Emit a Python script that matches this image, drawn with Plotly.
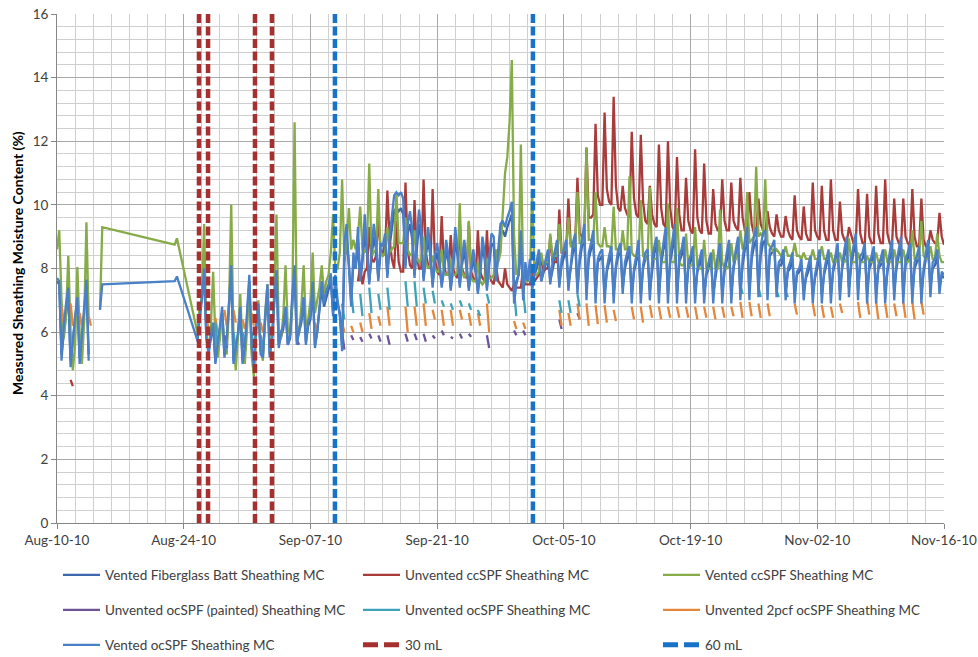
import datetime as dt
import plotly.graph_objects as go

# ---------------- time base: logger rows, 6-hour steps from Aug-10-10 00:00 ----------------
START = dt.datetime(2010, 8, 10)
slots = list(range(0, 21)) + [52, 53] + list(range(62, 393))
times = [START + dt.timedelta(hours=6 * s) for s in slots]

x_ticks = ["2010-08-10", "2010-08-24", "2010-09-07", "2010-09-21",
           "2010-10-05", "2010-10-19", "2010-11-02", "2010-11-16"]
y_ticks = [0, 2, 4, 6, 8, 10, 12, 14, 16]

# ---------------- Vented ocSPF Sheathing MC ----------------
vented_ocspf = [
    7.7, 7.6, 5.1, 6.2, 6.9, 7.4, 4.9, 5.8, 6.5, 7.1, 5.0, 5.9, 6.8, 7.65, 5.1,
    None, None, None, None, 6.7, 7.5,
    7.6, 7.75,
    5.75, 6.5,
    7.0, 8.0, 5.8, 5.3,  5.9, 6.3, 5.0, 5.6,  6.2, 6.8, 5.2, 5.8,  6.9, 8.1, 5.0, 5.6,
    6.0, 6.8, 5.0, 5.5,  6.5, 7.8, 5.6, 4.9,  6.2, 6.9, 5.3, 5.2,  6.5, 7.5, 5.2, 5.8,
    7.0, 7.95, 5.5, 6.0, 6.2, 6.8, 5.6, 5.9,  7.2, 8.1, 5.6, 6.1,  6.4, 7.1, 5.6, 6.3,
    6.5, 7.6, 5.5, 6.0,  6.8, 7.6, 6.9, 7.3,  7.5, 7.85, 6.5, 7.8, 7.0, 6.5, 5.4, 8.8,
    9.4, 8.0, 6.8, 8.5,  8.0, 9.3, 7.6, 8.4,  9.7, 8.6, 7.5, 8.6,  9.4, 8.8, 7.6, 8.8,
    8.7, 9.1, 7.7, 9.0,  9.6, 10.3, 10.4, 10.3, 10.4, 10.2, 8.0, 9.4, 9.8, 9.2, 7.7, 9.0,
    9.85, 9.2, 7.6, 8.6, 9.3, 8.6, 7.4, 8.4,  8.8, 8.3, 7.4, 8.0,  8.9, 8.4, 7.3, 8.1,
    9.3, 8.6, 7.4, 8.3,  8.9, 8.2, 7.3, 8.0,  8.6, 8.0, 7.2, 7.9,  9.0, 8.5, 7.3, 8.3,
    9.1, 9.0, 7.6, 8.6,  9.4, 9.5, 9.3, 9.6,  9.8, 10.1, 6.9, 7.5, 7.8, 9.2, 7.0, 8.2,
    7.6, 8.3, 7.3, 7.9,  8.2, 8.6, 7.6, 8.0,  8.3, 8.6, 7.5, 8.2,  8.5, 8.9, 7.4, 8.3,
    8.6, 8.9, 7.3, 8.2,  8.8, 9.1, 7.2, 8.4,  9.0, 9.4, 7.0, 8.5,  8.8, 9.2, 6.9, 8.3,
    8.5, 8.6, 6.9, 8.0,  8.4, 8.7, 6.9, 8.1,  8.6, 8.8, 7.2, 8.2,  8.5, 8.7, 6.9, 8.0,
    8.4, 8.9, 6.9, 8.1,  8.5, 8.6, 7.0, 8.2,  8.7, 9.0, 6.9, 8.3,  8.8, 9.3, 6.9, 8.4,
    8.9, 9.4, 6.9, 8.4,  8.6, 9.0, 6.9, 8.2,  8.4, 8.7, 6.9, 8.0,  8.3, 8.6, 6.9, 7.9,
    8.2, 8.5, 6.9, 7.9,  8.4, 8.8, 6.9, 8.0,  8.5, 8.9, 6.9, 8.1,  8.6, 9.0, 7.0, 8.3,
    8.9, 9.3, 7.0, 8.5,  9.0, 9.3, 7.1, 8.7,  9.1, 9.2, 7.0, 8.6,  8.7, 8.9, 7.1, 8.2,
    8.3, 8.6, 7.0, 8.0,  8.2, 8.5, 6.9, 7.9,  8.0, 8.3, 7.0, 7.8,  8.1, 8.4, 6.9, 7.8,
    8.2, 8.6, 6.9, 7.9,  8.3, 8.6, 6.9, 8.0,  8.4, 8.8, 7.0, 8.1,  8.6, 9.0, 7.1, 8.3,
    8.7, 9.1, 7.0, 8.4,  8.5, 8.8, 6.9, 8.2,  8.4, 8.7, 6.9, 8.1,  8.3, 8.6, 6.9, 8.0,
    8.5, 8.9, 7.0, 8.2,  8.6, 9.0, 6.9, 8.3,  8.5, 8.8, 6.9, 8.2,  8.4, 8.7, 6.9, 8.0,
    8.5, 8.9, 7.1, 8.2,  8.3, 8.6, 7.2, 7.9,
    7.8,
]

# ---------------- Vented Fiberglass Batt Sheathing MC ----------------
vented_fiberglass = [
    7.6, 7.5, 5.3, 6.0, 6.7, 7.2, 5.1, 5.7, 6.4, 7.0, 5.2, 5.8, 6.6, 7.5, 5.3,
    None, None, None, None, None, None,
    None, None,
    5.7, 6.4,
    6.9, 7.8, 5.9, 5.4,  5.8, 6.2, 5.1, 5.5,  6.1, 6.6, 5.3, 5.7,  6.8, 7.9, 5.1, 5.5,
    5.9, 6.6, 5.1, 5.4,  6.4, 7.6, 5.5, 5.0,  6.1, 6.8, 5.4, 5.3,  6.4, 7.3, 5.3, 5.7,
    6.9, 7.8, 5.6, 5.9,  6.1, 6.7, 5.6, 5.8,  7.0, 7.9, 5.7, 6.0,  6.3, 7.0, 5.7, 6.2,
    6.4, 7.4, 5.6, 6.0,  6.7, 7.4, 6.8, 7.1,  7.3, 7.6, 6.6, 7.5,  6.9, 6.6, 5.6, 8.2,
    8.9, 8.1, 7.0, 8.2,  8.0, 8.8, 7.6, 8.2,  9.1, 8.5, 7.6, 8.4,  9.0, 8.6, 7.7, 8.5,
    8.5, 8.8, 7.8, 8.7,  9.2, 9.8, 9.9, 9.8,  9.9, 9.7, 8.1, 9.1,  9.4, 8.9, 7.8, 8.7,
    9.4, 8.9, 7.7, 8.4,  8.9, 8.4, 7.5, 8.2,  8.5, 8.1, 7.5, 7.9,  8.6, 8.2, 7.4, 7.9,
    8.9, 8.4, 7.5, 8.1,  8.6, 8.0, 7.4, 7.9,  8.3, 7.9, 7.3, 7.8,  8.7, 8.3, 7.4, 8.1,
    8.8, 8.7, 7.7, 8.4,  9.1, 9.2, 9.0, 9.3,  9.5, 9.7, 7.1, 7.6,  7.8, 8.8, 7.2, 8.0,
    7.6, 8.1, 7.4, 7.8,  8.0, 8.4, 7.6, 7.9,  8.1, 8.4, 7.6, 8.0,  8.3, 8.6, 7.5, 8.1,
    8.4, 8.6, 7.5, 8.1,  8.5, 8.8, 7.4, 8.2,  8.7, 9.0, 7.3, 8.3,  8.6, 8.9, 7.2, 8.2,
    8.3, 8.4, 7.2, 7.9,  8.2, 8.5, 7.2, 8.0,  8.4, 8.6, 7.4, 8.0,  8.3, 8.5, 7.2, 7.9,
    8.2, 8.6, 7.2, 8.0,  8.3, 8.4, 7.3, 8.0,  8.5, 8.7, 7.2, 8.1,  8.6, 8.9, 7.2, 8.2,
    8.6, 9.0, 7.2, 8.2,  8.4, 8.7, 7.2, 8.0,  8.2, 8.5, 7.2, 7.9,  8.1, 8.4, 7.2, 7.8,
    8.0, 8.3, 7.2, 7.8,  8.2, 8.5, 7.2, 7.9,  8.3, 8.6, 7.2, 8.0,  8.4, 8.7, 7.3, 8.1,
    8.6, 8.9, 7.3, 8.3,  8.7, 8.9, 7.4, 8.4,  8.8, 8.9, 7.3, 8.4,  8.5, 8.6, 7.4, 8.1,
    8.1, 8.4, 7.3, 7.9,  8.0, 8.3, 7.2, 7.8,  7.9, 8.1, 7.3, 7.7,  7.9, 8.2, 7.2, 7.7,
    8.0, 8.4, 7.2, 7.8,  8.1, 8.4, 7.2, 7.9,  8.2, 8.6, 7.3, 8.0,  8.4, 8.7, 7.4, 8.1,
    8.5, 8.8, 7.3, 8.2,  8.3, 8.6, 7.2, 8.0,  8.2, 8.5, 7.2, 8.0,  8.1, 8.4, 7.2, 7.9,
    8.3, 8.6, 7.3, 8.0,  8.4, 8.7, 7.2, 8.1,  8.3, 8.6, 7.2, 8.0,  8.2, 8.5, 7.2, 7.9,
    8.3, 8.6, 7.4, 8.0,  8.1, 8.4, 7.4, 7.8,
    7.7,
]

# ---------------- Unvented ccSPF Sheathing MC ----------------
unvented_ccspf = [
    None, None, None, None, None, None, 4.5, 4.3, None, None, None, None, None, None, None,
    None, None, None, None, None, None,
    None, None,
    None, None,
] + [None] * 68 + [
    None, 7.6, 8.05, 7.5,  7.9, 8.0, 9.3, 8.3,  8.2, 8.4, 9.6, 8.6,  8.4, 8.5, 10.45, 8.9,
    8.3, 8.0, 9.5, 8.2,  7.9, 7.9, 10.7, 8.6,  8.1, 8.0, 10.15, 8.4,  8.0, 8.0, 10.8, 8.5,
    8.1, 8.0, 10.5, 8.3,  7.9, 7.8, 9.65, 8.1,  7.8, 7.8, 9.05, 8.0,  7.8, 7.7, 9.45, 8.0,
    7.8, 7.7, 9.45, 7.9,  7.7, 7.6, 9.2, 7.9,  7.7, 7.6, 9.2, 7.8,  7.6, 7.5, 8.1, 7.6,
    7.5, 7.4, 8.0, 7.5,  7.4, 7.3, 7.5, 7.4,  7.4, 7.4, 8.0, 7.5,  7.5, 7.5, 7.9, 7.6,
    7.7, 7.8, 8.4, 7.9,  8.0, 8.0, 9.0, 8.2,  8.2, 8.2, 9.85, 8.5,  8.5, 8.5, 10.2, 8.8,
    8.8, 8.8, 10.85, 9.1, 9.0, 9.0, 11.8, 9.6, 9.6, 9.7, 12.55, 10.3, 10.0, 10.0, 12.9, 10.5,
    10.1, 10.0, 13.4, 10.6, 9.9, 9.8, 10.6, 9.9, 9.7, 9.6, 12.3, 10.2, 9.7, 9.6, 12.2, 10.1,
    9.5, 9.4, 10.6, 9.7,  9.4, 9.3, 11.9, 9.9,  9.4, 9.3, 12.0, 9.9,  9.3, 9.2, 11.5, 9.7,
    9.2, 9.2, 10.85, 9.5, 9.2, 9.1, 11.75, 9.6, 9.2, 9.1, 11.3, 9.5,  9.1, 9.1, 10.5, 9.4,
    9.2, 9.2, 10.8, 9.5,  9.2, 9.2, 10.7, 9.5,  9.3, 9.2, 10.85, 9.6, 9.2, 9.1, 10.4, 9.4,
    9.1, 9.1, 10.2, 9.4,  9.2, 9.1, 9.8, 9.3,   9.1, 9.0, 9.7, 9.2,   9.0, 9.0, 9.65, 9.2,
    9.0, 8.9, 10.3, 9.2,  9.0, 8.9, 9.95, 9.1,  8.9, 8.9, 10.7, 9.2,  9.0, 8.9, 10.6, 9.2,
    8.9, 8.9, 10.8, 9.2,  8.9, 8.9, 10.1, 9.1,  8.9, 8.8, 9.3, 9.0,   8.8, 8.8, 10.5, 9.1,
    8.8, 8.8, 10.35, 9.0, 8.8, 8.8, 10.6, 9.1,  8.8, 8.8, 10.8, 9.1,  8.8, 8.7, 10.2, 9.0,
    8.8, 8.7, 10.2, 9.0,  8.8, 8.7, 10.5, 9.0,  8.7, 8.7, 10.2, 8.9,  8.7, 8.7, 9.2, 8.9,
    8.8, 8.8, 9.75, 9.0,
    8.75,
]

# ---------------- Vented ccSPF Sheathing MC ----------------
vented_ccspf = [
    8.6, 9.2, 7.0, 5.8, 6.5, 8.4, 6.0, 4.8, 5.6, 8.05, 6.0, 5.0, 6.3, 9.45, 6.4,
    None, None, None, None, 6.7, 9.3,
    8.75, 8.95,
    6.0, 6.8,
    7.0, 9.4, 6.0, 5.4,  6.2, 7.9, 5.8, 5.2,  5.8, 6.6, 5.6, 5.3,  6.8, 10.0, 5.8, 4.8,
    5.9, 7.2, 5.5, 5.0,  6.1, 7.4, 5.3, 4.6,  6.0, 7.0, 5.5, 5.1,  6.6, 7.5, 5.8, 5.6,
    7.3, 9.7, 6.0, 5.8,  6.5, 8.1, 6.1, 5.9,  7.0, 12.6, 6.2, 6.0, 6.8, 8.1, 6.2, 6.4,
    7.0, 8.5, 6.6, 7.0,  7.4, 8.1, 7.2, 7.6,  7.8, 8.5, 9.7, 8.0,  8.0, 8.5, 10.8, 8.3,
    8.8, 9.9, 8.6, 8.9,  8.6, 9.0, 9.95, 8.6, 8.5, 8.7, 11.3, 8.4,  8.5, 8.6, 10.5, 8.5,
    8.4, 8.5, 9.3, 8.5,  8.6, 8.7, 10.4, 8.8,  8.8, 8.8, 9.6, 8.6,  8.4, 8.5, 9.2, 8.3,
    8.2, 8.3, 9.0, 8.2,  8.0, 8.1, 8.4, 8.0,  7.9, 7.9, 8.6, 7.9,  7.8, 7.8, 8.3, 7.8,
    7.8, 7.9, 10.05, 7.9, 7.7, 7.9, 9.5, 7.7, 7.6, 7.6, 8.2, 7.6,  7.5, 7.6, 8.3, 7.7,
    7.7, 7.8, 8.6, 8.2,  8.5, 9.6, 11.0, 11.5, 12.6, 14.55, 9.0, 7.8, 8.0, 11.9, 7.8, 7.6,
    7.6, 7.7, 10.5, 7.8, 7.8, 7.9, 8.5, 8.1,  8.2, 8.2, 9.1, 8.3,  8.4, 8.4, 9.4, 8.5,
    8.6, 8.6, 9.6, 8.7,  8.7, 8.7, 10.4, 8.8,  8.8, 8.9, 11.8, 8.9,  8.9, 8.8, 10.4, 8.8,
    8.7, 8.7, 9.3, 8.7,  8.7, 8.6, 9.95, 8.6,  8.6, 8.5, 9.2, 8.6,  8.6, 10.9, 8.5, 8.4,
    8.4, 8.4, 10.15, 8.4, 8.3, 8.3, 10.55, 8.3, 8.3, 8.3, 8.9, 8.2,  8.2, 8.2, 10.05, 8.2,
    8.2, 8.2, 9.9, 8.2,  8.1, 8.1, 9.1, 8.1,  8.1, 8.1, 9.3, 8.1,  8.0, 8.0, 8.9, 8.0,
    8.0, 8.0, 8.6, 8.0,  8.0, 9.85, 8.2, 8.0,  8.0, 8.1, 8.8, 8.2,  8.3, 8.5, 9.2, 8.6,
    8.7, 10.4, 8.8, 8.9,  9.0, 11.2, 9.0, 9.1, 9.0, 10.8, 8.8, 8.7,  8.6, 8.5, 8.6, 8.5,
    8.4, 8.4, 8.7, 8.4,  8.4, 8.4, 8.8, 8.4,  8.4, 8.3, 8.5, 8.3,  8.3, 8.3, 8.6, 8.3,
    8.3, 8.3, 8.7, 8.3,  8.3, 8.3, 8.5, 8.2,  8.2, 8.3, 8.5, 8.2,  8.2, 8.3, 8.95, 8.2,
    8.2, 8.2, 8.5, 8.2,  8.2, 8.2, 8.4, 8.2,  8.2, 8.2, 8.5, 8.2,  8.2, 8.2, 8.6, 8.2,
    8.2, 8.2, 8.6, 8.2,  8.2, 8.2, 8.6, 8.2,  8.2, 8.3, 9.2, 8.3,  8.3, 8.4, 9.5, 8.4,
    8.3, 8.3, 8.7, 8.3,  8.3, 9.1, 8.4, 8.2,
    8.2,
]

# ---------------- lower sensors: daily dip (top -> bottom) read per day ----------------
painted_days = [18, 20, 26, 31, 32, 33, 34, 35, 36, 38, 39, 40, 41, 42, 43, 44, 45, 47, 50, 51, 55, 57]
painted_top = [5.9, 5.8, 5.75, 6.0, 5.9, 5.85, 5.95, 5.9, 5.9, 5.95, 5.95, 5.95, 5.9, 6.05, 5.85,
               5.95, 5.95, 5.9, 6.05, 6.05, 6.4, 6.6]
painted_bot = [5.5, 5.5, 5.6, 5.45, 5.75, 5.7, 5.8, 5.7, 5.6, 5.7, 5.75, 5.7, 5.8, 5.9, 5.8,
               5.8, 5.85, 5.5, 5.9, 5.9, 6.1, 6.4]

ocspf_days = [17, 19, 20, 21, 22, 31, 32, 33, 34, 35, 36, 38, 39, 40, 41, 42, 43, 44, 45, 46, 47,
              50, 51, 55, 56, 57, 75, 77, 79, 80]
ocspf_top = [6.3, 6.0, 6.0, 6.0, 5.9, 6.9, 7.3, 7.2, 7.4, 7.2, 7.4, 7.6, 7.6, 7.4, 7.3, 7.0, 6.9,
             7.0, 6.9, 6.7, 7.2, 7.3, 7.3, 7.0, 7.0, 7.2, 7.5, 7.4, 7.3, 7.3]
ocspf_bot = [5.6, 5.5, 5.6, 5.5, 5.5, 6.4, 6.6, 6.5, 6.6, 6.7, 6.7, 6.8, 6.8, 6.9, 6.9, 6.8, 6.7,
             6.8, 6.7, 6.5, 6.9, 6.5, 6.6, 6.6, 6.6, 6.8, 7.2, 7.1, 7.1, 7.1]

pcf2_days = [0, 1, 2, 3, 16, 17, 18, 19, 20, 21, 22, 28, 31, 32, 33, 34, 35, 36, 38, 39, 40, 41,
             42, 43, 44, 45, 46, 47, 50, 51, 55, 56, 57, 58, 59, 60, 61, 63, 64, 65, 66, 67, 68,
             69, 70, 71, 72, 73, 74, 75, 76, 77, 78, 81, 83, 84, 85, 86, 88, 89, 90, 91, 92, 93,
             94, 95]
pcf2_top = [6.8, 6.9, 6.6, 6.5, 6.5, 6.45, 6.7, 6.7, 6.4, 6.6, 6.3, 6.3, 6.3, 6.2, 6.3, 6.6, 6.5,
            6.8, 6.8, 6.8, 6.9, 6.7, 6.7, 6.7, 6.7, 6.6, 6.6, 6.9, 6.35, 6.3, 6.7, 6.6, 6.9, 6.9,
            6.85, 6.85, 6.7, 6.8, 6.8, 6.85, 6.8, 6.8, 6.8, 6.8, 6.8, 6.8, 6.8, 6.8, 6.8, 6.95, 6.95,
            6.9, 6.9, 6.9, 6.9, 6.85, 6.8, 6.9, 6.95, 7.0, 6.95, 6.9, 6.9, 6.95, 6.95, 6.95]
pcf2_bot = [6.3, 6.2, 6.2, 6.2, 6.1, 6.0, 6.2, 6.3, 6.1, 6.2, 6.0, 6.0, 6.0, 6.0, 6.0, 6.1, 6.2,
            6.2, 6.0, 6.2, 6.2, 6.4, 6.2, 6.2, 6.4, 6.2, 6.2, 6.0, 6.1, 6.1, 6.2, 6.2, 6.4, 6.2,
            6.25, 6.3, 6.35, 6.4, 6.3, 6.45, 6.4, 6.45, 6.45, 6.45, 6.4, 6.45, 6.4, 6.45, 6.5, 6.45,
            6.5, 6.45, 6.5, 6.55, 6.5, 6.45, 6.45, 6.6, 6.45, 6.55, 6.4, 6.45, 6.5, 6.45, 6.4,
            6.55]

# injection events (dashed markers)
ml30_times = ["2010-08-25 16:30", "2010-08-26 16:30", "2010-08-31 21:00", "2010-09-02 18:00"]
ml60_times = ["2010-09-09 17:00", "2010-10-01 14:00"]

for name, arr in [("vented_ocspf", vented_ocspf), ("vented_fiberglass", vented_fiberglass),
                  ("unvented_ccspf", unvented_ccspf), ("vented_ccspf", vented_ccspf)]:
    assert len(arr) == len(slots), (name, len(arr), len(slots))
assert len(painted_days) == len(painted_top) == len(painted_bot)
assert len(ocspf_days) == len(ocspf_top) == len(ocspf_bot)
assert len(pcf2_days) == len(pcf2_top) == len(pcf2_bot)

slot_pos = {s: i for i, s in enumerate(slots)}


def dip_series(days, tops, bots):
    vals = [None] * len(slots)
    for d, t, b in zip(days, tops, bots):
        vals[slot_pos[4 * d + 2]] = t
        vals[slot_pos[4 * d + 3]] = b
    return vals


def event_lines(ts):
    xs, ys = [], []
    for t in ts:
        xs += [t, t, None]
        ys += [0, 16, None]
    return xs, ys


FONT = "Lato"
LW = 2.3
fig = go.Figure()

# legend slots: 3 columns x 3 rows (one legend box per entry)
LEG_COL_X = [58, 358, 658]
LEG_ROW_Y = [575, 610, 645]
legend_boxes = {}


def leg_id(row, col):
    n = row * 3 + col + 1
    lid = "legend" if n == 1 else "legend%d" % n
    legend_boxes[lid] = dict(
        xref="container", yref="container",
        x=LEG_COL_X[col] / 978, y=1 - LEG_ROW_Y[row] / 657,
        xanchor="left", yanchor="middle", itemwidth=37,
        font=dict(family=FONT, size=13.5, color="#404040"),
        bgcolor="rgba(0,0,0,0)", borderwidth=0)
    return lid


def add_line(y, name, color, row, col):
    fig.add_trace(go.Scatter(x=times, y=y, mode="lines", name=name, legend=leg_id(row, col),
                             line=dict(color=color, width=LW), connectgaps=False,
                             hoverinfo="skip"))


add_line(vented_fiberglass, "Vented Fiberglass Batt Sheathing MC", "#3C67AC", 0, 0)
add_line(unvented_ccspf, "Unvented ccSPF Sheathing MC", "#A93B3B", 0, 1)
add_line(vented_ccspf, "Vented ccSPF Sheathing MC", "#86AB47", 0, 2)
add_line(dip_series(painted_days, painted_top, painted_bot),
         "Unvented ocSPF (painted) Sheathing MC", "#6C5497", 1, 0)
add_line(dip_series(pcf2_days, pcf2_top, pcf2_bot),
         "Unvented 2pcf ocSPF Sheathing MC", "#E5873A", 1, 2)
add_line(dip_series(ocspf_days, ocspf_top, ocspf_bot),
         "Unvented ocSPF Sheathing MC", "#3EA3B9", 1, 1)
add_line(vented_ocspf, "Vented ocSPF Sheathing MC", "#4A80C8", 2, 0)

for ts, name, color, col in [(ml30_times, "30 mL", "#A5302F", 1),
                             (ml60_times, "60 mL", "#1872C8", 2)]:
    ex, ey = event_lines(ts)
    lid = leg_id(2, col)
    fig.add_trace(go.Scatter(x=ex, y=ey, mode="lines", name=name, showlegend=False,
                             line=dict(color=color, width=4.5, dash="9px,3.5px"),
                             hoverinfo="skip"))
    # legend sample drawn with the longer dash used in the original key
    fig.add_trace(go.Scatter(x=[None], y=[None], mode="lines", name=name, legend=lid,
                             line=dict(color=color, width=5, dash="15px,6px"),
                             hoverinfo="skip"))

fig.update_layout(
    width=978, height=657,
    margin=dict(l=57, r=34, t=14, b=134, autoexpand=False),
    paper_bgcolor="white", plot_bgcolor="white",
    font=dict(family=FONT, size=13, color="#404040"),
    showlegend=True,
    xaxis=dict(
        type="date", range=["2010-08-10", "2010-11-16"], automargin=False,
        tickmode="array", tickvals=x_ticks, tickformat="%b-%d-%y",
        showgrid=True, gridcolor="#A9A9A9", gridwidth=1,
        showline=True, linecolor="#868686", linewidth=1,
        ticks="outside", ticklen=5, tickcolor="#868686",
        tickfont=dict(family=FONT, size=13.5, color="#404040"),
        minor=dict(dtick=2 * 86400000, tick0="2010-08-10", showgrid=True,
                   gridcolor="#CFCFCF", gridwidth=1, ticks=""),
        zeroline=False,
    ),
    yaxis=dict(
        range=[0, 16], tickmode="array", tickvals=y_ticks, automargin=False,
        showgrid=True, gridcolor="#A9A9A9", gridwidth=1,
        showline=True, linecolor="#868686", linewidth=1,
        ticks="outside", ticklen=5, tickcolor="#868686",
        tickfont=dict(family=FONT, size=13.5, color="#404040"),
        minor=dict(dtick=0.4, tick0=0, showgrid=True, gridcolor="#CFCFCF", gridwidth=1, ticks=""),
        zeroline=False,
    ),
    annotations=[dict(
        text="<b>Measured Sheathing Moisture Content (%)</b>", textangle=-90,
        xref="paper", yref="paper", x=(17 - 57) / 887, y=(523 - 263) / 509,
        xanchor="center", yanchor="middle", showarrow=False,
        font=dict(family=FONT, size=14, color="#000000"))],
)
fig.update_layout(**legend_boxes)

fig.write_html("out.html")
